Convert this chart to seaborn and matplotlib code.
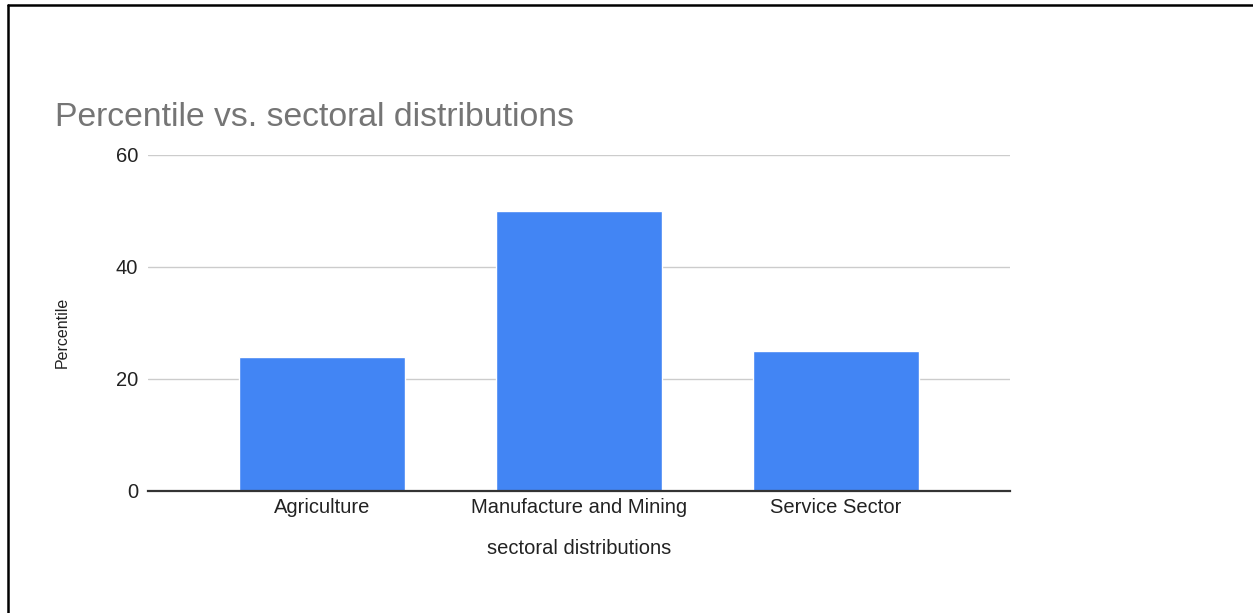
import matplotlib
matplotlib.use("Agg")
import matplotlib.pyplot as plt
import seaborn as sns
import pandas as pd
from matplotlib.lines import Line2D

categories = ["Agriculture", "Manufacture and Mining", "Service Sector"]
values = [24, 50, 25]
yticks = [0, 20, 40, 60]

df = pd.DataFrame({"sector": categories, "pct": values})

sns.set_theme(style="white")
plt.rcParams['font.family'] = ['Liberation Sans', 'DejaVu Sans']

W, H = 1253, 613
fig = plt.figure(figsize=(W / 100, H / 100), dpi=100)
ax = fig.add_axes([148 / W, 1 - 491 / H, (1010 - 148) / W, (491 - 155) / H])

sns.barplot(data=df, x="sector", y="pct", color="#4285F4", saturation=1,
            width=0.647, ax=ax, zorder=3)

ax.set_xlim(-0.68, 2.68)
ax.set_ylim(0, 60)
ax.set_yticks(yticks)
ax.set_yticklabels([str(v) for v in yticks])
ax.yaxis.grid(True, color="#cccccc", linewidth=1, zorder=0)
ax.set_axisbelow(True)
for s in ["top", "right", "left"]:
    ax.spines[s].set_visible(False)
ax.spines["bottom"].set_color("#333333")
ax.spines["bottom"].set_linewidth(1.6)
ax.spines["bottom"].set_zorder(4)
ax.tick_params(axis="both", length=0, labelsize=14.5, colors="#222222")
ax.tick_params(axis="y", pad=7)
ax.tick_params(axis="x", pad=5)

ax.set_xlabel("sectoral distributions", fontsize=14.5, color="#222222")
ax.xaxis.set_label_coords(0.5, -(548 - 491) / (491 - 155))
ax.xaxis.label.set_va("center")
ax.set_ylabel("Percentile", fontsize=11.5, color="#222222")
ax.yaxis.set_label_coords((62 - 148) / (1010 - 148), (491 - 332) / (491 - 155))
ax.yaxis.label.set_va("center")

fig.text(55 / W, 1 - 126 / H, "Percentile vs. sectoral distributions",
         fontsize=24.3, color="#757575", ha="left", va="baseline")

# page border lines (left and top)
fig.add_artist(Line2D([7.5 / W, 7.5 / W], [0, 1 - 4.5 / H], color="black",
                      linewidth=1.8, transform=fig.transFigure))
fig.add_artist(Line2D([7.5 / W, 1], [1 - 4.5 / H, 1 - 4.5 / H], color="black",
                      linewidth=1.8, transform=fig.transFigure))

fig.savefig("out.png", dpi=100, facecolor="white")
